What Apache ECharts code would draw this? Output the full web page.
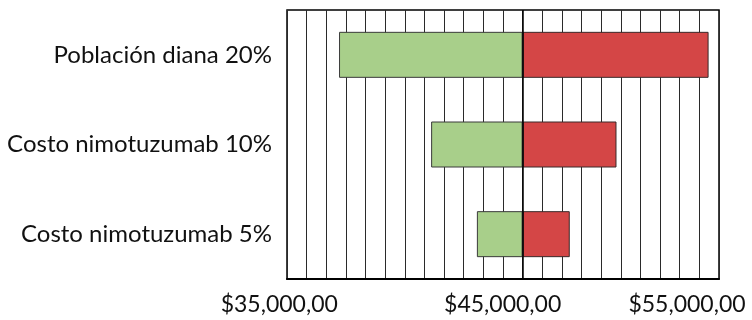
<!DOCTYPE html>
<html>
<head>
<meta charset="utf-8">
<script src="https://cdn.jsdelivr.net/npm/echarts@6/dist/echarts.min.js"></script>
<style>
html,body{margin:0;padding:0;background:#fff;}
#c{width:752px;height:320px;}
</style>
</head>
<body>
<div id="c"></div>
<script>
const categories = ['Población diana 20%', 'Costo nimotuzumab 10%', 'Costo nimotuzumab 5%'];
const lowValues = [35650, 40340, 42670];
const highValues = [54470, 49780, 47400];
const baseValue = 45000;
const xTickValues = [35000, 45000, 55000];
const xTickLabels = ['$35,000,00', '$45,000,00', '$55,000,00'];

const greenPart = lowValues.map(v => baseValue - v);
const redPart = highValues.map(v => v - baseValue);

// per-label horizontal shift (layout only)
const labelShift = [47, 20, 32];
const rich = {};
labelShift.forEach((s, i) => {
  rich['t' + i] = { padding: [0, 2 * s, 0, 0], fontSize: 23, fontFamily: 'Lato', color: '#111' };
});

const chart = echarts.init(document.getElementById('c'), null, { renderer: 'canvas' });
chart.setOption({
  animation: false,
  backgroundColor: '#fff',
  grid: { left: 287, right: 33, top: 10, bottom: 41, show: true, borderColor: '#000', borderWidth: 1.5, backgroundColor: 'transparent' },
  xAxis: {
    type: 'value', min: 33000, max: 55000, interval: 1000,
    axisLine: { show: true, lineStyle: { color: '#000', width: 2 } },
    axisTick: { show: false },
    splitLine: { show: true, lineStyle: { color: '#2a2a2a', width: 1 } },
    axisLabel: {
      margin: 14,
      formatter: function (v) {
        const i = xTickValues.indexOf(v);
        return i >= 0 ? '{t' + i + '|' + xTickLabels[i] + '}' : '';
      },
      rich: rich
    }
  },
  yAxis: {
    type: 'category', inverse: true, data: categories,
    axisLine: { show: false }, axisTick: { show: false }, splitLine: { show: false },
    axisLabel: { margin: 15, fontSize: 24, fontFamily: 'Lato', color: '#111' }
  },
  series: [
    { type: 'bar', stack: 't', data: lowValues, barWidth: 46, itemStyle: { color: 'rgba(0,0,0,0)', borderWidth: 0 }, silent: true },
    { type: 'bar', stack: 't', data: greenPart, barWidth: 46, itemStyle: { color: '#a8cf8a', borderColor: '#3a3a3a', borderWidth: 1 } },
    { type: 'bar', stack: 't', data: redPart, barWidth: 46, itemStyle: { color: '#d44646', borderColor: '#3a2a2a', borderWidth: 1 },
      markLine: { silent: true, symbol: 'none', label: { show: false }, lineStyle: { color: '#000', width: 1.5, type: 'solid' }, data: [{ xAxis: baseValue }] } }
  ]
});
</script>
</body>
</html>
